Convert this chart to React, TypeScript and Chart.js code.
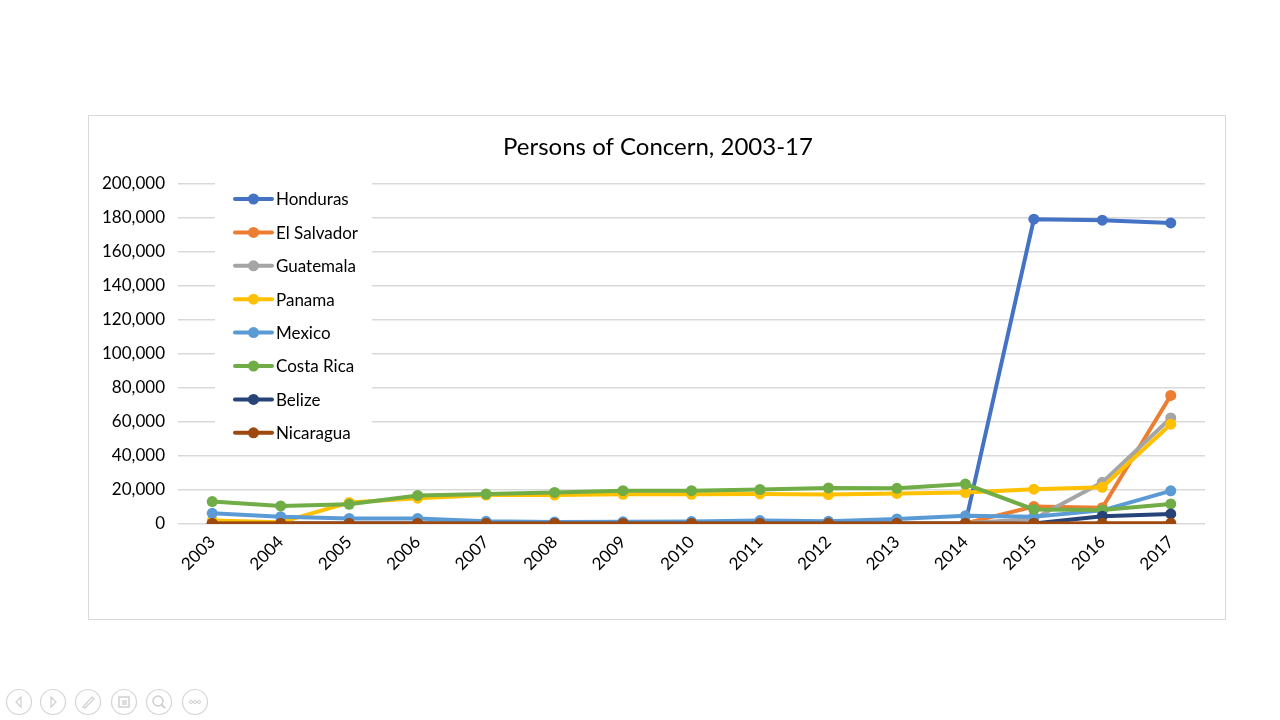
import React, { useEffect, useRef } from "react";
import { Chart, registerables } from "chart.js";

Chart.register(...registerables);

const years = ["2003","2004","2005","2006","2007","2008","2009","2010","2011","2012","2013","2014","2015","2016","2017"];

const seriesNames = ["Honduras","El Salvador","Guatemala","Panama","Mexico","Costa Rica","Belize","Nicaragua"];
const seriesColors = ["#4472C4","#ED7D31","#A5A5A5","#FFC000","#5B9BD5","#70AD47","#264478","#9E480E"];

const honduras = [300, 300, 300, 300, 300, 300, 300, 300, 300, 300, 300, 400, 179300, 178700, 177100];
const elSalvador = [300, 300, 300, 300, 300, 300, 300, 300, 300, 300, 300, 400, 10300, 9600, 75600];
const guatemala = [300, 300, 300, 300, 300, 300, 300, 300, 300, 300, 300, 500, 3000, 24500, 62400];
const panama = [2000, 1000, 12600, 15200, 17000, 17000, 17500, 17500, 17700, 17300, 18000, 18500, 20500, 21600, 58700];
const mexico = [6300, 4300, 3300, 3300, 1600, 1200, 1300, 1400, 2000, 1600, 3000, 4800, 4300, 8000, 19500];
const costaRica = [13200, 10600, 11600, 16800, 17600, 18600, 19600, 19600, 20300, 21200, 21000, 23500, 8600, 8300, 11800];
const belize = [200, 200, 200, 200, 200, 200, 200, 200, 200, 200, 200, 200, 300, 4600, 5900];
const nicaragua = [300, 300, 300, 300, 300, 300, 300, 300, 300, 300, 300, 300, 300, 400, 500];

const seriesValues = [honduras, elSalvador, guatemala, panama, mexico, costaRica, belize, nicaragua];

const titleText = "Persons of Concern, 2003-17";

const FONT = "Lato, 'Open Sans', sans-serif";

const legendPlugin = {
  id: "insideLegend",
  afterDraw(chart: any) {
    const ctx = chart.ctx;
    const area = chart.chartArea;
    ctx.save();
    // title centred over the whole chart box
    ctx.fillStyle = "#000000";
    ctx.font = "24px " + FONT;
    ctx.textAlign = "center";
    ctx.textBaseline = "middle";
    ctx.fillText(titleText, chart.width / 2 + 1, 31);
    // legend
    ctx.fillStyle = "#ffffff";
    ctx.fillRect(area.left + 37, area.top - 1, 157, 262);
    const x0 = area.left + 57;
    const y0 = area.top + 15;
    const step = 33.4;
    chart.data.datasets.forEach((ds: any, i: number) => {
      const y = y0 + i * step;
      ctx.strokeStyle = ds.borderColor;
      ctx.lineWidth = 4;
      ctx.lineCap = "round";
      ctx.beginPath();
      ctx.moveTo(x0, y);
      ctx.lineTo(x0 + 37, y);
      ctx.stroke();
      ctx.fillStyle = ds.borderColor;
      ctx.beginPath();
      ctx.arc(x0 + 18.5, y, 5.5, 0, Math.PI * 2);
      ctx.fill();
      ctx.fillStyle = "#000000";
      ctx.font = "17px " + FONT;
      ctx.textBaseline = "middle";
      ctx.textAlign = "left";
      ctx.fillText(ds.label, x0 + 41, y + 1);
    });
    ctx.restore();
  },
};

function ChartBox() {
  const ref = useRef<HTMLCanvasElement | null>(null);
  useEffect(() => {
    if (!ref.current) return;
    const datasets = seriesNames.map((name, i) => ({
      label: name,
      data: seriesValues[i],
      borderColor: seriesColors[i],
      backgroundColor: seriesColors[i],
      borderWidth: 4,
      pointRadius: 5.5,
      pointHoverRadius: 5.5,
      pointBorderWidth: 0,
      tension: 0,
      order: seriesNames.length - i,
    }));
    const chart = new Chart(ref.current, {
      type: "line",
      data: { labels: years, datasets },
      plugins: [legendPlugin],
      options: {
        animation: false,
        responsive: false,
        maintainAspectRatio: false,
        layout: { padding: { left: 0, right: 20, top: 68, bottom: 0 } },
        plugins: {
          legend: { display: false },
          tooltip: { enabled: false },
          title: { display: false },
        },
        scales: {
          x: {
            offset: true,
            grid: { display: false, drawTicks: false },
            border: { display: false },
            ticks: {
              color: "#000000",
              font: { family: FONT, size: 17 },
              minRotation: 45,
              maxRotation: 45,
              padding: 8,
            },
            afterFit: (s: any) => { s.height = 95; },
          },
          y: {
            min: 0,
            max: 200000,
            ticks: {
              stepSize: 20000,
              color: "#000000",
              font: { family: FONT, size: 17 },
              padding: 13,
              callback: (v: any) => Number(v).toLocaleString("en-US"),
            },
            grid: { color: "#d9d9d9", lineWidth: 1.5, drawTicks: false },
            border: { display: false },
            afterFit: (s: any) => { s.width = 89; },
          },
        },
      },
    });
    return () => chart.destroy();
  }, []);
  return <canvas ref={ref} width={1136} height={503} style={{ display: "block", width: 1136, height: 503 }} />;
}

function Icon({ x, children }: { x: number; children?: React.ReactNode }) {
  return (
    <svg style={{ position: "absolute", left: x - 14, top: 688 }} width={28} height={28} viewBox="0 0 28 28">
      <circle cx={14} cy={14} r={12.5} fill="none" stroke="#d6d6d6" strokeWidth={1.2} />
      {children}
    </svg>
  );
}

export default function App() {
  return (
    <div style={{ position: "fixed", left: 0, top: 0, width: 1280, height: 720, background: "#ffffff", overflow: "hidden" }}>
      <div style={{ position: "absolute", left: 88, top: 115, width: 1136, height: 503, border: "1px solid #d9d9d9" }}>
        <ChartBox />
      </div>
      <Icon x={19}><path d="M16 9 L11 14 L16 19 Z" fill="none" stroke="#cfcfcf" strokeWidth={1.2} /></Icon>
      <Icon x={53}><path d="M12 9 L17 14 L12 19 Z" fill="none" stroke="#cfcfcf" strokeWidth={1.2} /></Icon>
      <Icon x={88}><path d="M9 19 L18 9 L20 11 L11 20 Z" fill="none" stroke="#cfcfcf" strokeWidth={1.2} /></Icon>
      <Icon x={124}><rect x={9} y={9} width={10} height={10} fill="none" stroke="#cfcfcf" strokeWidth={1.5} /><rect x={12} y={12} width={5} height={5} fill="#dddddd" /></Icon>
      <Icon x={159}><circle cx={13} cy={13} r={5} fill="none" stroke="#cfcfcf" strokeWidth={1.5} /><path d="M16.5 16.5 L20 20" stroke="#cfcfcf" strokeWidth={2} /></Icon>
      <Icon x={195}><circle cx={10} cy={14} r={1.5} fill="none" stroke="#cfcfcf" /><circle cx={14} cy={14} r={1.5} fill="none" stroke="#cfcfcf" /><circle cx={18} cy={14} r={1.5} fill="none" stroke="#cfcfcf" /></Icon>
    </div>
  );
}
